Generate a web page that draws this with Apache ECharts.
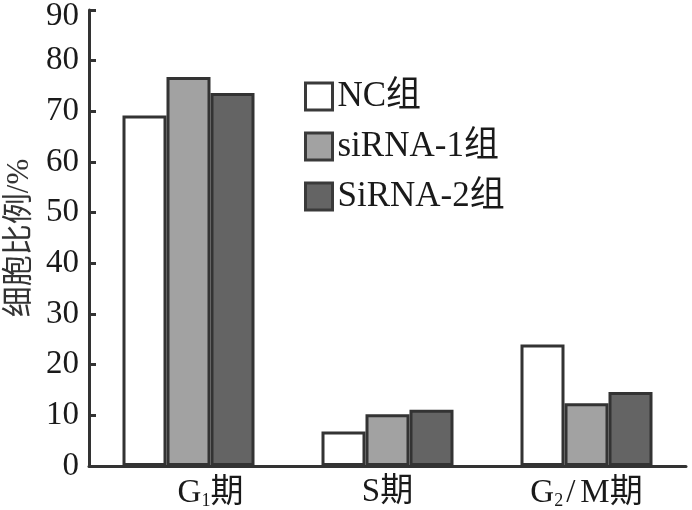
<!DOCTYPE html>
<html>
<head>
<meta charset="utf-8">
<script src="https://cdn.jsdelivr.net/npm/echarts@6/dist/echarts.min.js"></script>
<style>html,body{margin:0;padding:0;background:#fff}#c{width:692px;height:510px}</style>
</head>
<body>
<div id="c"></div>
<script>
var categories = ['G1期', 'S期', 'G2/M期'];
var seriesNames = ['NC组', 'siRNA-1组', 'SiRNA-2组'];
var ncValues = [69.2, 6.8, 24];
var sirna1Values = [76.8, 10.2, 12.4];
var sirna2Values = [73.6, 11.1, 14.6];
var yTicks = [0, 90, 10];

var serif = "'Liberation Serif', 'Noto Sans CJK SC', serif";
var textColor = '#1a1a1a';
var fills = ['#ffffff', '#a2a2a2', '#646464'];
var values = [ncValues, sirna1Values, sirna2Values];

var chart = echarts.init(document.getElementById('c'));
chart.setOption({
  animation: false,
  backgroundColor: '#fff',
  grid: { left: 89, right: 6, top: 10, bottom: 44, containLabel: false, outerBoundsMode: 'none' },
  legend: {
    orient: 'vertical',
    left: 299,
    top: 74,
    itemWidth: 27,
    itemHeight: 27,
    itemGap: 15,
    icon: 'rect',
    itemStyle: { borderColor: '#3a3a3a', borderWidth: 3 },
    textStyle: { fontFamily: serif, fontSize: 35, color: textColor },
    data: seriesNames
  },
  xAxis: {
    type: 'category',
    data: categories,
    axisLine: { lineStyle: { color: '#333', width: 3 } },
    axisTick: { inside: true, length: 7, lineStyle: { color: '#333', width: 3 } },
    axisLabel: {
      margin: 10,
      formatter: function (v) {
        if (v === 'G1期') return '{pad|}{t|G}{sub|1}{t|期}';
        if (v === 'G2/M期') return '{t|G}{sub|2}{sl|/}{t|M期}';
        return '{t|' + v + '}';
      },
      rich: {
        pad: { width: 44 },
        t: { fontFamily: serif, fontSize: 33, color: textColor },
        sl: { fontFamily: serif, fontSize: 33, color: textColor, padding: [0, 5, 0, 3] },
        sub: { fontFamily: serif, fontSize: 18, color: textColor, padding: [16, 0, 0, 0] }
      }
    }
  },
  yAxis: {
    type: 'value',
    min: yTicks[0],
    max: yTicks[1],
    interval: yTicks[2],
    name: '细胞比例/%',
    nameLocation: 'middle',
    nameGap: 54,
    nameRotate: 90,
    nameTextStyle: { fontFamily: serif, fontSize: 31, color: '#333' },
    axisLine: { show: true, lineStyle: { color: '#333', width: 3 } },
    axisTick: { show: true, inside: true, length: 7, lineStyle: { color: '#333', width: 3 } },
    splitLine: { show: false },
    axisLabel: {
      margin: 10,
      formatter: function (v) {
        return v === yTicks[1] ? '{top|' + v + '}' : '{n|' + v + '}';
      },
      rich: {
        n: { fontFamily: serif, fontSize: 33, color: textColor },
        top: { fontFamily: serif, fontSize: 33, color: textColor, padding: [12, 0, 0, 0] }
      }
    }
  },
  series: seriesNames.map(function (n, i) {
    return {
      name: n,
      type: 'bar',
      data: values[i],
      barWidth: 44,
      barGap: '0%',
      itemStyle: { color: fills[i], borderColor: '#333', borderWidth: 3 }
    };
  })
});
</script>
</body>
</html>
